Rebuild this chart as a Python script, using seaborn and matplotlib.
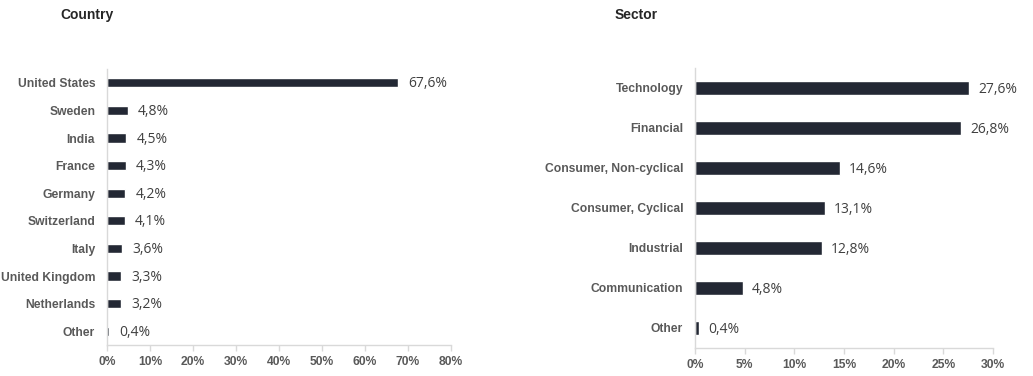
import numpy as np
import pandas as pd
import seaborn as sns
import matplotlib.pyplot as plt
from matplotlib.ticker import FixedLocator, PercentFormatter

countries = ["United States", "Sweden", "India", "France", "Germany", "Switzerland",
             "Italy", "United Kingdom", "Netherlands", "Other"]
country_pct = [67.6, 4.8, 4.5, 4.3, 4.2, 4.1, 3.6, 3.3, 3.2, 0.4]

sectors = ["Technology", "Financial", "Consumer, Non-cyclical", "Consumer, Cyclical",
           "Industrial", "Communication", "Other"]
sector_pct = [27.6, 26.8, 14.6, 13.1, 12.8, 4.8, 0.4]

BAR = "#232834"
GRID = "#d9d9d9"
TICKTXT = "#595959"

sns.set_theme(style="white")
plt.rcParams["font.family"] = ["Liberation Sans", "DejaVu Sans"]

fig = plt.figure(figsize=(10.33, 3.76), dpi=100)
ax1 = fig.add_axes([0.1036, 0.0824, 0.333, 0.734])
ax2 = fig.add_axes([0.6728, 0.0745, 0.2885, 0.7447])


def draw(ax, cats, vals, xmax, step, title, title_x):
    df = pd.DataFrame({"cat": cats, "pct": vals})
    sns.barplot(data=df, y="cat", x="pct", orient="h", color=BAR, width=0.33,
                saturation=1, ax=ax)
    n = len(cats)
    ax.set_xlim(0, xmax)
    ax.set_ylim(n - 0.5, -0.5)
    ax.set_xticks(np.arange(0, xmax + step / 2, step))
    ax.xaxis.set_major_formatter(PercentFormatter(decimals=0))
    ax.yaxis.set_minor_locator(FixedLocator(np.arange(-0.5, n, 1.0)))
    ax.tick_params(axis="y", which="major", length=0, pad=8.5, labelsize=8.7,
                   labelcolor=TICKTXT)
    ax.tick_params(axis="y", which="minor", length=4, color=GRID, width=1)
    ax.tick_params(axis="x", which="major", length=4, color=GRID, width=1,
                   labelsize=8.7, labelcolor=TICKTXT, pad=4)
    ax.tick_params(axis="x", which="major", bottom=True)
    for lab in ax.get_yticklabels() + ax.get_xticklabels():
        lab.set_fontweight("bold")
    ax.set_xlabel("")
    ax.set_ylabel("")
    for s in ["top", "right"]:
        ax.spines[s].set_visible(False)
    for s in ["left", "bottom"]:
        ax.spines[s].set_color(GRID)
        ax.spines[s].set_linewidth(1)
    for i, v in enumerate(vals):
        ax.text(v + xmax * 0.03, i + 0.04, f"{v:.1f}%".replace(".", ","), va="center",
                ha="left", fontsize=10, color="#404040",
                family=["Open Sans", "DejaVu Sans"])
    fig.text(title_x, 1 - 15 / 376, title, fontsize=10, fontweight="bold",
             color="#262626", va="center", ha="left")


draw(ax1, countries, country_pct, 80, 10, "Country", 60 / 1033)
draw(ax2, sectors, sector_pct, 30, 5, "Sector", 615 / 1033)

fig.savefig("out.png", dpi=100)
